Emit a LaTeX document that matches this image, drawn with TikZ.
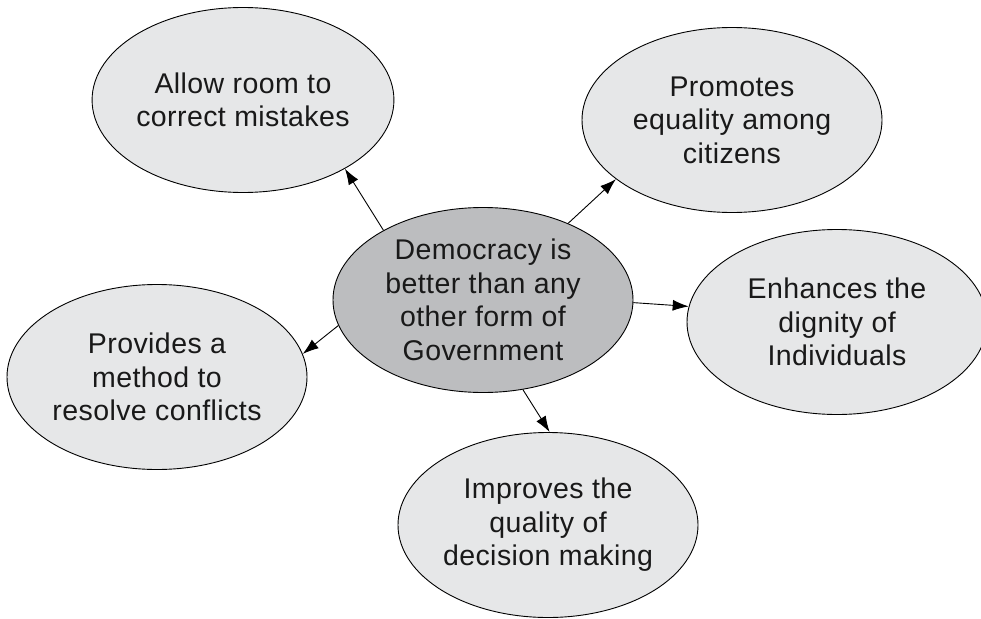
\documentclass[tikz,border=0pt]{standalone}
\usepackage{fontspec}
\setmainfont{Liberation Sans}[LetterSpace=1.5]
\usetikzlibrary{shapes.geometric,arrows.meta}
\definecolor{outerfill}{HTML}{E6E7E8}
\definecolor{centerfill}{HTML}{BCBDBF}
\begin{document}
\begin{tikzpicture}[x=1pt,y=-1pt,
  bubble/.style={ellipse,draw=black,line width=0.9pt,fill=outerfill,
    minimum width=300pt,minimum height=185pt,inner sep=0pt,align=center,
    font=\fontsize{28.5pt}{33.5pt}\selectfont,text=black!90},
  hub/.style={bubble,fill=centerfill},
  link/.style={line width=0.9pt,-{Latex[length=16pt,width=11pt]}}]
\useasboundingbox (0,0) rectangle (981,618);
\node[bubble] (tl) at (243,100) {Allow room to\\correct mistakes};
\node[bubble] (tr) at (732,120) {Promotes\\equality among\\citizens};
\node[bubble] (r) at (837,322) {Enhances the\\dignity of\\Individuals};
\node[bubble] (l) at (157,377) {Provides a\\method to\\resolve conflicts};
\node[bubble] (b) at (548,525) {Improves the\\quality of\\decision making};
\node[hub] (c) at (483,300) {Democracy is\\better than any\\other form of\\Government};
\draw[link] (c.145) -- (tl.-34);
\draw[link] (c.42) -- (tr.207);
\draw[link] (c.-1.5) -- (r.174);
\draw[link] (c.190.6) -- (l.9.3);
\draw[link] (c.-66) -- (b.89);
\end{tikzpicture}
\end{document}
